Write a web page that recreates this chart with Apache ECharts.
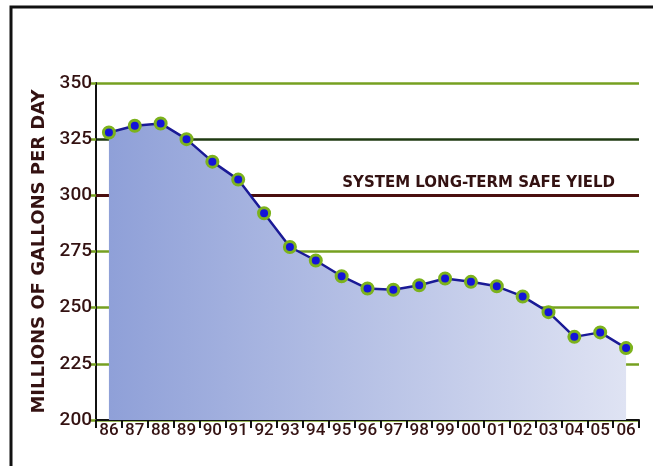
<!DOCTYPE html>
<html>
<head>
<meta charset="utf-8">
<script src="https://cdn.jsdelivr.net/npm/echarts@6/dist/echarts.min.js"></script>
<style>
  html, body { margin: 0; padding: 0; background: #ffffff; }
  #chart { width: 653px; height: 466px; }
</style>
</head>
<body>
<div id="chart"></div>
<script>
// Water demand, millions of gallons per day, 1986-2006
const years = ['86','87','88','89','90','91','92','93','94','95','96','97','98','99','00','01','02','03','04','05','06'];
const demand = [328, 331, 332, 325, 315, 307, 292, 277, 271, 264, 258.5, 258, 260, 263, 261.5, 259.5, 255, 248, 237, 239, 232];
const safeYield = 300;
const yTicks = [200, 225, 250, 275, 300, 325, 350];

const textColor = '#341212';
const gridGreen = '#76a020';

const chart = echarts.init(document.getElementById('chart'), null, { renderer: 'canvas' });

chart.setOption({
  animation: false,
  backgroundColor: '#ffffff',
  graphic: [{
    type: 'rect',
    shape: { x: 11, y: 7, width: 660, height: 480 },
    style: { fill: 'none', stroke: '#111111', lineWidth: 3 },
    z: 0
  }],
  grid: { left: 96, right: 14, top: 83, bottom: 46 },
  xAxis: {
    type: 'category',
    data: years,
    boundaryGap: true,
    axisLine: { show: true, lineStyle: { color: '#111111', width: 2 } },
    axisTick: { show: true, length: 8, lineStyle: { color: '#111111', width: 2 } },
    axisLabel: {
      color: textColor, fontSize: 17, fontWeight: 500, margin: 2,
      fontFamily: 'Roboto, sans-serif'
    },
    splitLine: { show: false }
  },
  yAxis: {
    type: 'value',
    min: 200, max: 350, interval: 25,
    name: 'MILLIONS OF GALLONS PER DAY',
    nameLocation: 'middle',
    nameGap: 40,
    nameTextStyle: {
      color: textColor, fontSize: 18, fontWeight: 'bold',
      fontFamily: 'DejaVu Sans, sans-serif'
    },
    axisLine: { show: true, lineStyle: { color: '#111111', width: 2 } },
    axisTick: { show: true, length: 5, lineStyle: { color: gridGreen, width: 2.5 } },
    axisLabel: {
      color: textColor, fontSize: 19, fontWeight: 500, margin: 4,
      fontFamily: 'Roboto, sans-serif',
      formatter: v => (yTicks.indexOf(v) >= 0 ? String(v) : '')
    },
    splitLine: {
      show: true,
      lineStyle: {
        color: [gridGreen, gridGreen, gridGreen, gridGreen, '#4a0e0e', '#1f3a12', gridGreen],
        width: 2.5
      }
    }
  },
  series: [{
    type: 'line',
    data: demand,
    z: 5,
    symbol: 'circle',
    symbolSize: 11,
    itemStyle: { color: '#1414d8', borderColor: '#7cb21c', borderWidth: 3 },
    lineStyle: { color: '#1a1a96', width: 2.5 },
    areaStyle: {
      origin: 'start',
      opacity: 1,
      color: new echarts.graphic.LinearGradient(0, 0, 1, 0, [
        { offset: 0, color: '#8fa0d8' },
        { offset: 1, color: '#dfe3f3' }
      ])
    },
    markLine: {
      silent: true,
      symbol: 'none',
      z: 3,
      data: [
        [
          { coord: ['86', 325], lineStyle: { color: '#9cbc2a', width: 2.5, type: 'solid' } },
          { coord: ['89', 325] }
        ],
        {
          yAxis: safeYield,
          lineStyle: { color: '#4a0e0e', width: 3, type: 'solid' },
          label: {
            show: true,
            position: 'insideEndTop',
            distance: [24, 5],
            formatter: 'SYSTEM LONG-TERM SAFE YIELD',
            color: textColor, fontSize: 15, fontWeight: 'bold',
            fontFamily: 'DejaVu Sans, sans-serif'
          }
        }
      ],
      label: { show: false }
    }
  }]
});
</script>
</body>
</html>
